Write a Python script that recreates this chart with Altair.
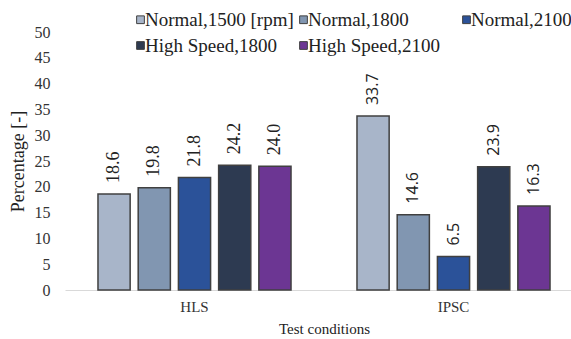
import altair as alt
import pandas as pd

groups = ["HLS", "IPSC"]
series = ["Normal,1500 [rpm]", "Normal,1800", "Normal,2100", "High Speed,1800", "High Speed,2100"]
hls_values = [18.6, 19.8, 21.8, 24.2, 24.0]
ipsc_values = [33.7, 14.6, 6.5, 23.9, 16.3]
colors = ["#a8b5c9", "#8196b1", "#2b5299", "#2d3a51", "#6c3693"]
y_ticks = [0, 5, 10, 15, 20, 25, 30, 35, 40, 45, 50]

rows = []
for g, vals in zip(groups, [hls_values, ipsc_values]):
    for s, v in zip(series, vals):
        rows.append({"group": g, "series": s, "value": v})
df = pd.DataFrame(rows)

FONT = "Liberation Serif"

x_enc = alt.X("group:N", sort=groups, title="Test conditions",
              scale=alt.Scale(paddingInner=0, paddingOuter=0, range=[2, 520]),
              axis=alt.Axis(labelAngle=0, ticks=False, domainColor="#d9d9d9", labelPadding=9,
                            labelFontSize=15, titleFontSize=15, titlePadding=7))
xo_enc = alt.XOffset("series:N", sort=series,
                     scale=alt.Scale(paddingInner=0.2, paddingOuter=0.82))
y_enc = alt.Y("value:Q", title="Percentage [-]",
              scale=alt.Scale(domain=[0, 50], nice=False),
              axis=alt.Axis(values=y_ticks, grid=False, domain=False, ticks=False, labelPadding=13,
                            labelFontSize=16, titleFontSize=18, titlePadding=7))

bars = alt.Chart(df).mark_bar(stroke="#404040", strokeWidth=1.5).encode(
    x=x_enc, xOffset=xo_enc, y=y_enc,
    color=alt.Color("series:N", sort=series, scale=alt.Scale(domain=series, range=colors),
                    legend=alt.Legend(title=None, orient="none", legendX=68, legendY=-22,
                                      padding=0, columns=3, direction="horizontal", gridAlign="all",
                                      columnPadding=-6, rowPadding=6,
                                      symbolType="square", symbolSize=60, symbolStrokeColor="#404040",
                                      symbolStrokeWidth=1, labelFontSize=19,
                                      labelOffset={"expr": "-5"}, labelLimit=300)),
)

def labels(group, font, size):
    return alt.Chart(df).transform_filter(alt.datum.group == group).mark_text(
        angle=270, align="left", baseline="middle", dx=11, fontSize=size, font=font, color="#222222"
    ).encode(x=x_enc, xOffset=xo_enc, y=y_enc, text=alt.Text("value:Q", format=".1f"))

chart = alt.layer(bars, labels("HLS", FONT, 18), labels("IPSC", "Open Sans", 16)).properties(
    width=508, height=258,
    autosize=alt.AutoSizeParams(type="none"),
    padding={"left": 63, "top": 32, "right": 0, "bottom": 49},
).configure(background="white", font=FONT).configure_view(stroke=None).configure_axis(
    labelFont=FONT, titleFont=FONT, titleFontWeight="normal",
    labelColor="#333333", titleColor="#222222"
).configure_legend(labelFont=FONT, labelColor="#222222")

chart.save("out.html", embed_options={"renderer": "svg", "actions": False})
